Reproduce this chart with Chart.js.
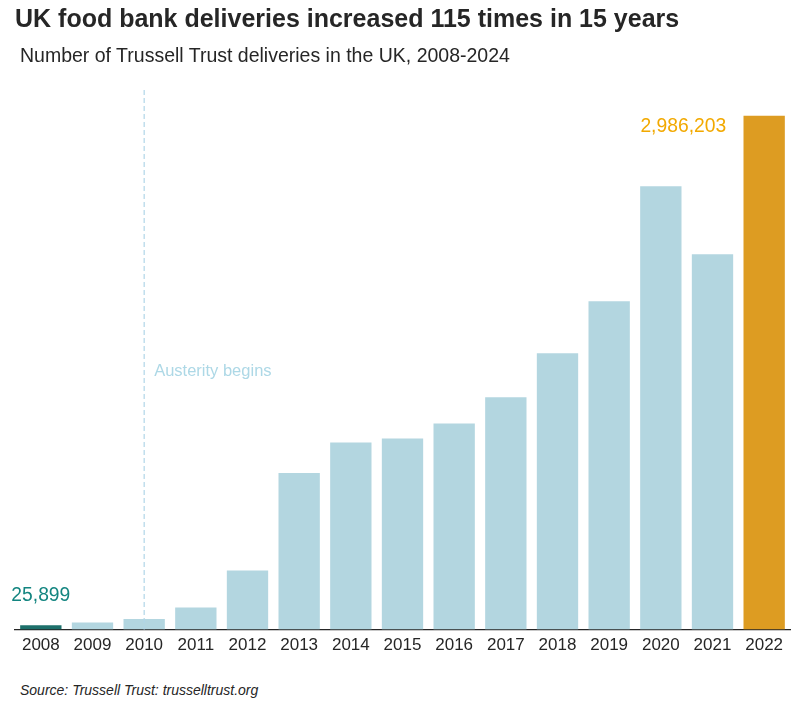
<!DOCTYPE html>
<html>
<head>
<meta charset="utf-8">
<script src="https://cdn.jsdelivr.net/npm/chart.js@4"></script>
<style>
  body { margin: 0; background: #fff; font-family: "Liberation Sans", Arial, sans-serif; }
  #wrap { position: relative; width: 800px; height: 708px; }
  #title { position: absolute; left: 15px; top: 4px; font-size: 25px; font-weight: bold; color: #262626; white-space: nowrap; }
  #subtitle { position: absolute; left: 20px; top: 44px; font-size: 19.5px; color: #262626; white-space: nowrap; }
  #source { position: absolute; left: 20px; top: 682px; font-size: 14px; font-style: italic; color: #262626; white-space: nowrap; }
  #chartBox { position: absolute; left: 0; top: 0; width: 800px; height: 662px; }
</style>
</head>
<body>
<div id="wrap">
  <div id="chartBox"><canvas id="foodbank"></canvas></div>
  <div id="title">UK food bank deliveries increased 115 times in 15 years</div>
  <div id="subtitle">Number of Trussell Trust deliveries in the UK, 2008-2024</div>
  <div id="source">Source: Trussell Trust: trusselltrust.org</div>
</div>
<script>
// datos
const years = ['2008', '2009', '2010', '2011', '2012', '2013', '2014', '2015', '2016', '2017', '2018', '2019', '2020', '2021', '2022'];
const deliveries = [25899, 41000, 61000, 128000, 343000, 910000, 1088000, 1111000, 1198000, 1350000, 1606000, 1908000, 2577000, 2182000, 2986203];
const austerityYear = '2010';
const austerityLabelValue = 1500000;

const barColors = years.map((y, i) => {
    if (i === 0) return '#1d706b';
    if (i === years.length - 1) return '#dd9c22';
    return '#b3d6e0';
});

// anotaciones: linea de austeridad y etiquetas de valores
const annotations = {
    id: 'annotations',
    afterDatasetsDraw(chart) {
        const ctx = chart.ctx;
        const xs = chart.scales.x;
        const ys = chart.scales.y;
        const area = chart.chartArea;

        const lx = xs.getPixelForValue(years.indexOf(austerityYear));
        ctx.save();
        ctx.strokeStyle = '#b0d6e8';
        ctx.lineWidth = 1.2;
        ctx.setLineDash([5, 3]);
        ctx.beginPath();
        ctx.moveTo(lx, area.top);
        ctx.lineTo(lx, area.bottom);
        ctx.stroke();
        ctx.setLineDash([]);

        ctx.font = '16.5px "Liberation Sans", Arial, sans-serif';
        ctx.fillStyle = '#add8e6';
        ctx.textAlign = 'left';
        ctx.textBaseline = 'middle';
        ctx.fillText('Austerity begins', lx + 10, ys.getPixelForValue(austerityLabelValue));

        ctx.font = '19.3px "Liberation Sans", Arial, sans-serif';
        const first = deliveries[0];
        ctx.fillStyle = '#138580';
        ctx.textAlign = 'center';
        ctx.fillText(first.toLocaleString('en-US'), xs.getPixelForValue(0), ys.getPixelForValue(first) - 29);

        const last = deliveries[deliveries.length - 1];
        ctx.fillStyle = '#f2a900';
        ctx.textAlign = 'right';
        ctx.fillText(last.toLocaleString('en-US'), xs.getPixelForValue(years.length - 1) - 38, ys.getPixelForValue(last) + 11);
        ctx.restore();
    }
};

const canvas = document.getElementById('foodbank');
new Chart(canvas, {
    type: 'bar',
    data: {
        labels: years,
        datasets: [
            {
                label: 'Deliveries',
                data: deliveries,
                backgroundColor: barColors,
                borderWidth: 0,
                barPercentage: 0.8,
                categoryPercentage: 1.0,
            },
        ],
    },
    options: {
        responsive: true,
        maintainAspectRatio: false,
        animation: false,
        layout: {
            padding: { top: 90, left: 15, right: 10, bottom: 0 },
        },
        plugins: {
            legend: { display: false },
            tooltip: { enabled: false },
        },
        scales: {
            x: {
                grid: { display: false, drawTicks: false },
                border: { display: true, color: '#262626', width: 1.2 },
                ticks: {
                    color: '#262626',
                    padding: 6,
                    font: { family: '"Liberation Sans", Arial, sans-serif', size: 17 },
                },
            },
            y: {
                display: false,
                min: 0,
                max: 3136000,
            },
        },
    },
    plugins: [annotations],
});
</script>
</body>
</html>
